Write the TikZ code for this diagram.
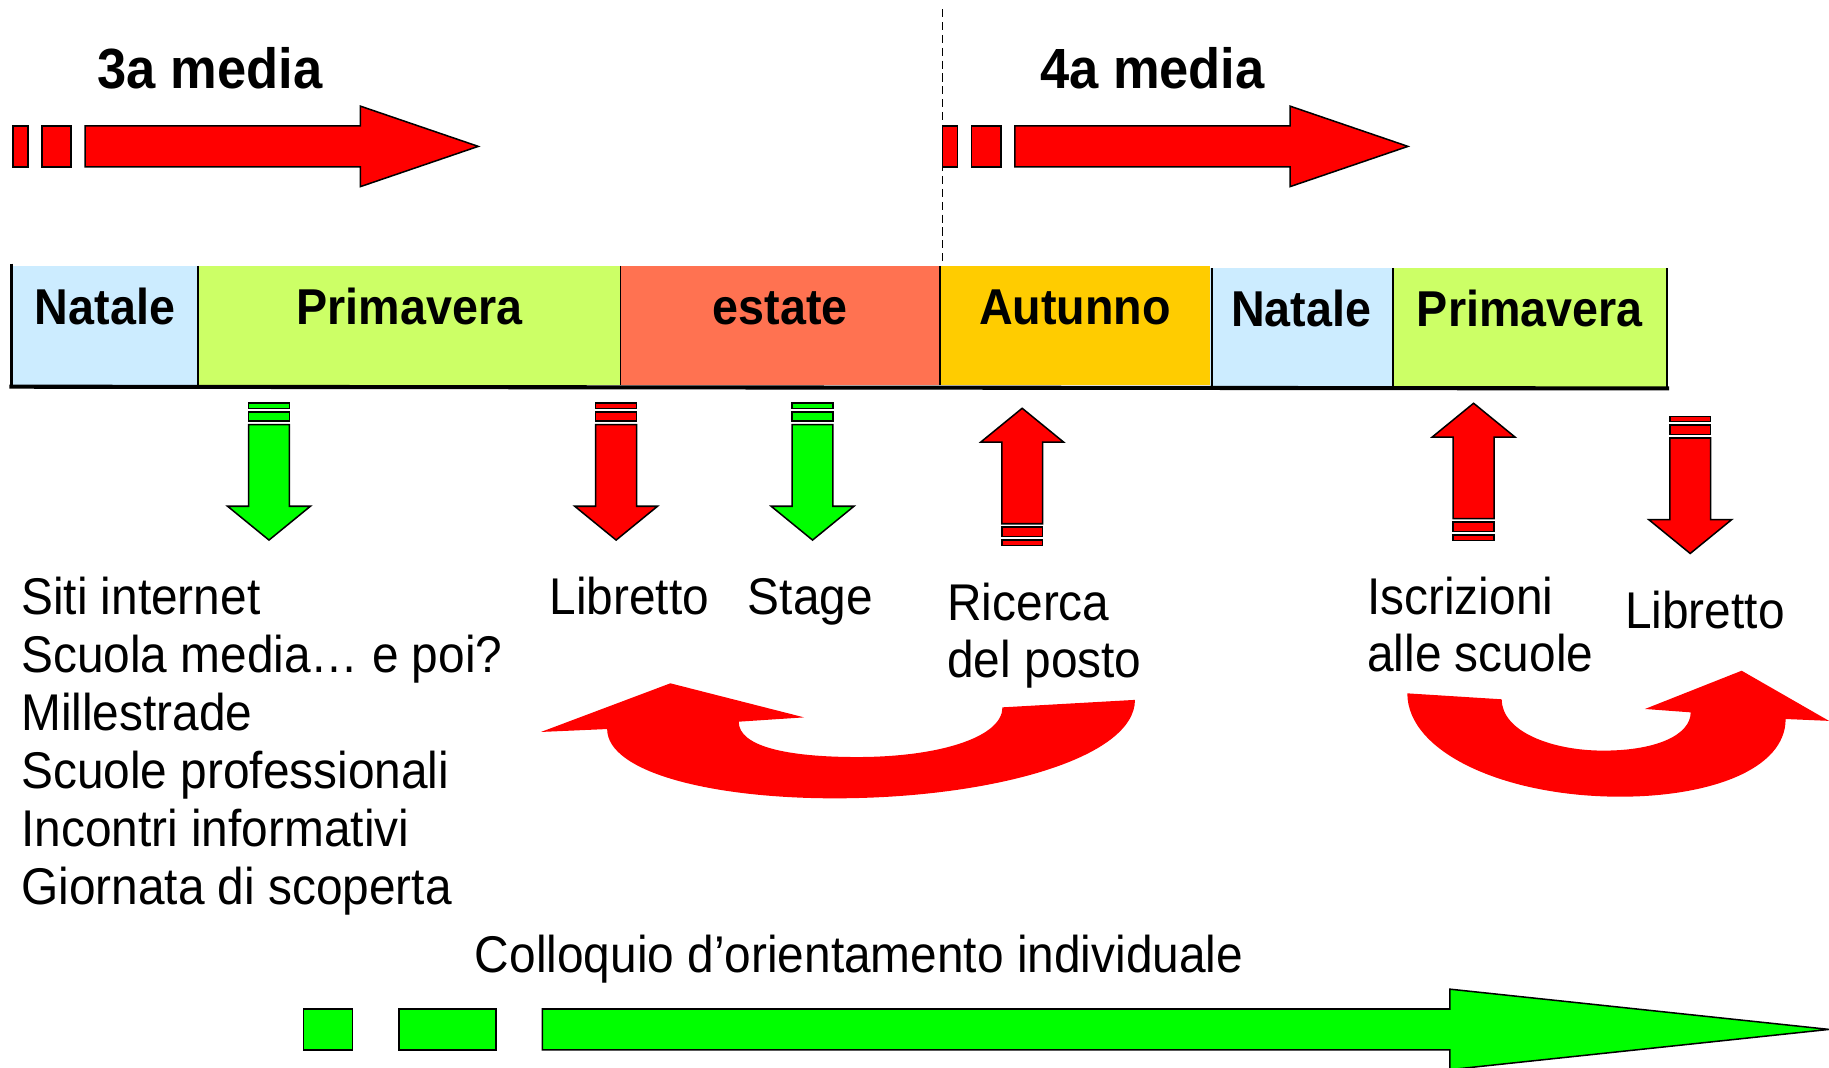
\documentclass[tikz,border=0pt]{standalone}
\usepackage{fontspec}
\setmainfont{Liberation Sans}
\usetikzlibrary{positioning}
\definecolor{rosso}{HTML}{FF0000}
\definecolor{verde}{HTML}{00FF00}
\definecolor{celeste}{HTML}{CCECFF}
\definecolor{primcol}{HTML}{CCFF66}
\definecolor{estcol}{HTML}{FF7251}
\definecolor{autcol}{HTML}{FFCC00}
\begin{document}
\begin{tikzpicture}[x=1pt, y=-1pt] % one unit = one pixel, y downwards
\tikzstyle{blk} = [draw=black, line width=1.3pt] % outline of the block arrows
\tikzstyle{season} = [font=\fontsize{40}{48}\selectfont\bfseries, inner sep=0pt, anchor=base, yscale=1.08] % labels in the bar
\tikzstyle{media} = [font=\fontsize{45}{54}\selectfont\bfseries, inner sep=0pt, anchor=base, yscale=1.08] % school year titles
\tikzstyle{txt} = [font=\fontsize{41}{49.6}\selectfont, inner sep=0pt, anchor=base west, yscale=1.08] % plain texts
\useasboundingbox (0,0) rectangle (1568,915);
% dashed separation between the two years
\draw[line width=1.6pt, dash pattern=on 7pt off 4pt] (808,8) -- (808,228);
% year arrows on top
\foreach \xo in {11,808}{
  \filldraw[blk, fill=rosso] (\xo,108) rectangle ({\xo+13},143);
  \filldraw[blk, fill=rosso] ({\xo+25},108) rectangle ({\xo+50},143);
  \filldraw[blk, fill=rosso] ({\xo+62},108) -- ({\xo+298},108) -- ({\xo+298},91) -- ({\xo+399},125.5)
     -- ({\xo+298},160) -- ({\xo+298},143) -- ({\xo+62},143) -- cycle;
}
\node[media] (terza) at (180,76) {3a media};
\node[media] (quarta) at (988,76) {4a media};
% the seasons
\foreach \xa/\xb/\ya/\yb/\col/\nm/\txt in {10/170/228/330/celeste/natA/Natale, 170/532/228/330/primcol/primA/Primavera,
    532/806/228/330/estcol/est/estate, 806/1037/228/330/autcol/aut/Autunno,
    1037/1194/230/333/celeste/natB/Natale, 1194/1429/230/333/primcol/primB/Primavera}{
  \fill[\col] (\xa,\ya) rectangle (\xb,\yb);
  \node[season] (\nm) at ({(\xa+\xb)/2},{\ya+50}) {\txt};
}
\foreach \xd/\ya/\yb in {170/228/330, 532/228/330, 806/228/330, 1039/230/333, 1194/230/333, 1429/230/333}
  \draw[line width=1.5pt] (\xd,\ya) -- (\xd,\yb);
\draw[line width=3pt] (10,226) -- (10,333);
\draw[line width=3.5pt] (8,331.5) -- (1431,333);
% small arrows under the bar (d=1 down, d=-1 up)
\foreach \cx/\yo/\d/\col in {230.6/345.5/1/verde, 528.2/345.5/1/rosso, 696.6/345.5/1/verde,
    876.3/467.5/-1/rosso, 1263.3/463.2/-1/rosso, 1449/357/1/rosso}{
  \filldraw[blk, fill=\col] ({\cx-17.5},\yo) rectangle ({\cx+17.5},{\yo+(\d)*4.5});
  \filldraw[blk, fill=\col] ({\cx-17.5},{\yo+(\d)*7.5}) rectangle ({\cx+17.5},{\yo+(\d)*15.5});
  \filldraw[blk, fill=\col] ({\cx-17.5},{\yo+(\d)*18.5}) -- ({\cx-17.5},{\yo+(\d)*88.5}) -- ({\cx-35.5},{\yo+(\d)*88.5})
     -- (\cx,{\yo+(\d)*117.5}) -- ({\cx+35.5},{\yo+(\d)*88.5}) -- ({\cx+17.5},{\yo+(\d)*88.5}) -- ({\cx+17.5},{\yo+(\d)*18.5}) -- cycle;
}
% texts
\foreach \t [count=\i] in {Siti internet, Scuola media… e poi?, Millestrade, Scuole professionali, Incontri informativi, Giornata di scoperta}
  \node[txt] (voce\i) at (18,{527+(\i-1)*49.6}) {\t};
\node[txt] (libA) at (471,527) {Libretto};
\node[txt] (stage) at (641,527) {Stage};
\node[txt] (ric) at (812,532) {Ricerca};
\node[txt] (posto) at (812,581) {del posto};
\node[txt] (iscr) at (1172,527) {Iscrizioni};
\node[txt] (scuole) at (1172,576) {alle scuole};
\node[txt] (libB) at (1393,539) {Libretto};
\node[txt] (coll) at (407,834) {Colloquio d’orientamento individuale};
% curved arrows
\fill[rosso] (973,600) -- (859.4,606.4) .. controls (859.4,632) and (805,649) .. (735,649)
   .. controls (675,649) and (633.3,640) .. (633.3,618.7) -- (689.3,615) -- (574.7,585.8) -- (463.8,627.5) -- (520.5,625)
   .. controls (520.5,662) and (610,684.4) .. (715.4,684.4) .. controls (850,684.4) and (973,650) .. (973,600) -- cycle;
\fill[rosso] (1206.5,594.4) -- (1287.4,599.5) .. controls (1287.4,627) and (1330,643.5) .. (1374.5,643.5)
   .. controls (1420,643.5) and (1449.4,630) .. (1449.4,610.7) -- (1410.2,607.8) -- (1493.1,575) -- (1568,618) -- (1530.8,616.4)
   .. controls (1530.8,660) and (1465,683) .. (1389,683) .. controls (1290,683) and (1206.5,645) .. (1206.5,594.4) -- cycle;
% long green arrow at the bottom
\filldraw[blk, fill=verde] (260,865) rectangle (302,900);
\filldraw[blk, fill=verde] (342,865) rectangle (425,900);
\filldraw[blk, fill=verde] (465,865) -- (1243,865) -- (1243,848) -- (1568,882.5) -- (1243,917) -- (1243,900) -- (465,900) -- cycle;
\end{tikzpicture}
\end{document}
